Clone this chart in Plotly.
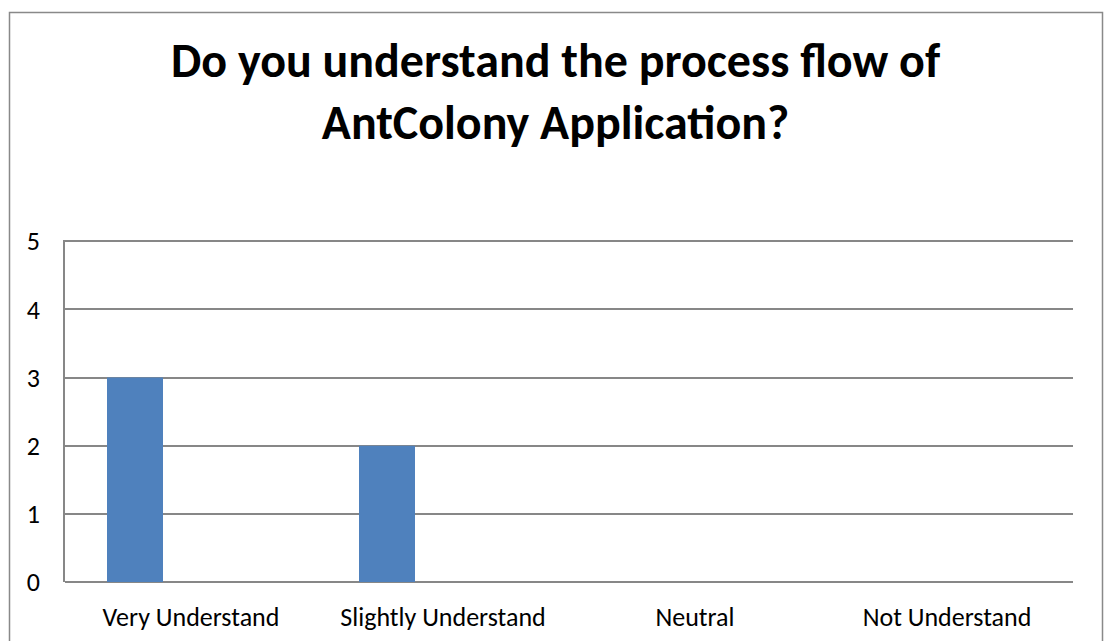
import plotly.graph_objects as go

categories = ["Very Understand", "Slightly Understand", "Neutral", "Not Understand"]
series1 = [3, 2, 0, 0]
series2 = [0, 0, 0, 0]
series3 = [0, 0, 0, 0]
y_ticks = [0, 1, 2, 3, 4, 5]
title_lines = ["Do you understand the process flow of", "AntColony Application?"]

W, H = 1107, 641
L, R, T, B = 65, 34, 240, 59
pw, ph = W - L - R, H - T - B

def px_x(p):
    return (p - L) / pw

def px_y(p):
    return (H - B - p) / ph

fig = go.Figure()
for name, vals, col in [("Series 1", series1, "#4F81BD"), ("Series 2", series2, "#C0504D"), ("Series 3", series3, "#9BBB59")]:
    fig.add_trace(go.Bar(x=categories, y=vals, name=name, marker=dict(color=col, line=dict(width=0)), hoverinfo="x+y"))

font = "Carlito, Calibri, 'Open Sans', sans-serif"
fig.update_layout(
    width=W, height=H,
    margin=dict(l=L, r=R, t=T, b=B, autoexpand=False),
    paper_bgcolor="white", plot_bgcolor="white",
    barmode="group", bargap=1.5 / 4.5, bargroupgap=0,
    showlegend=False,
    font=dict(family=font, size=26, color="#000000"),
    xaxis=dict(showgrid=False, showline=False, ticks="", ticklabelstandoff=17, automargin=False,
               tickfont=dict(size=26)),
    yaxis=dict(range=[0, 5.02], tickvals=y_ticks, showgrid=True, gridcolor="#878787", gridwidth=1.5,
               showline=True, linecolor="#878787", linewidth=1.5, zeroline=True, zerolinecolor="#878787",
               zerolinewidth=1.5, ticks="", ticklabelstandoff=18, automargin=False,
               tickfont=dict(size=26)),
)
fig.add_annotation(text="<br>".join("<b>%s</b>" % s for s in title_lines), xref="paper", yref="paper",
                   x=px_x(556), y=px_y(29), xanchor="center", yanchor="top", showarrow=False,
                   font=dict(family=font, size=48, color="#000000"), align="center")
fig.add_shape(type="rect", xref="paper", yref="paper", x0=px_x(9.5), x1=px_x(1102.5), y0=px_y(660), y1=px_y(12.5),
              line=dict(color="#898989", width=1.5), fillcolor="rgba(0,0,0,0)", layer="below")

fig.write_html("out.html")
